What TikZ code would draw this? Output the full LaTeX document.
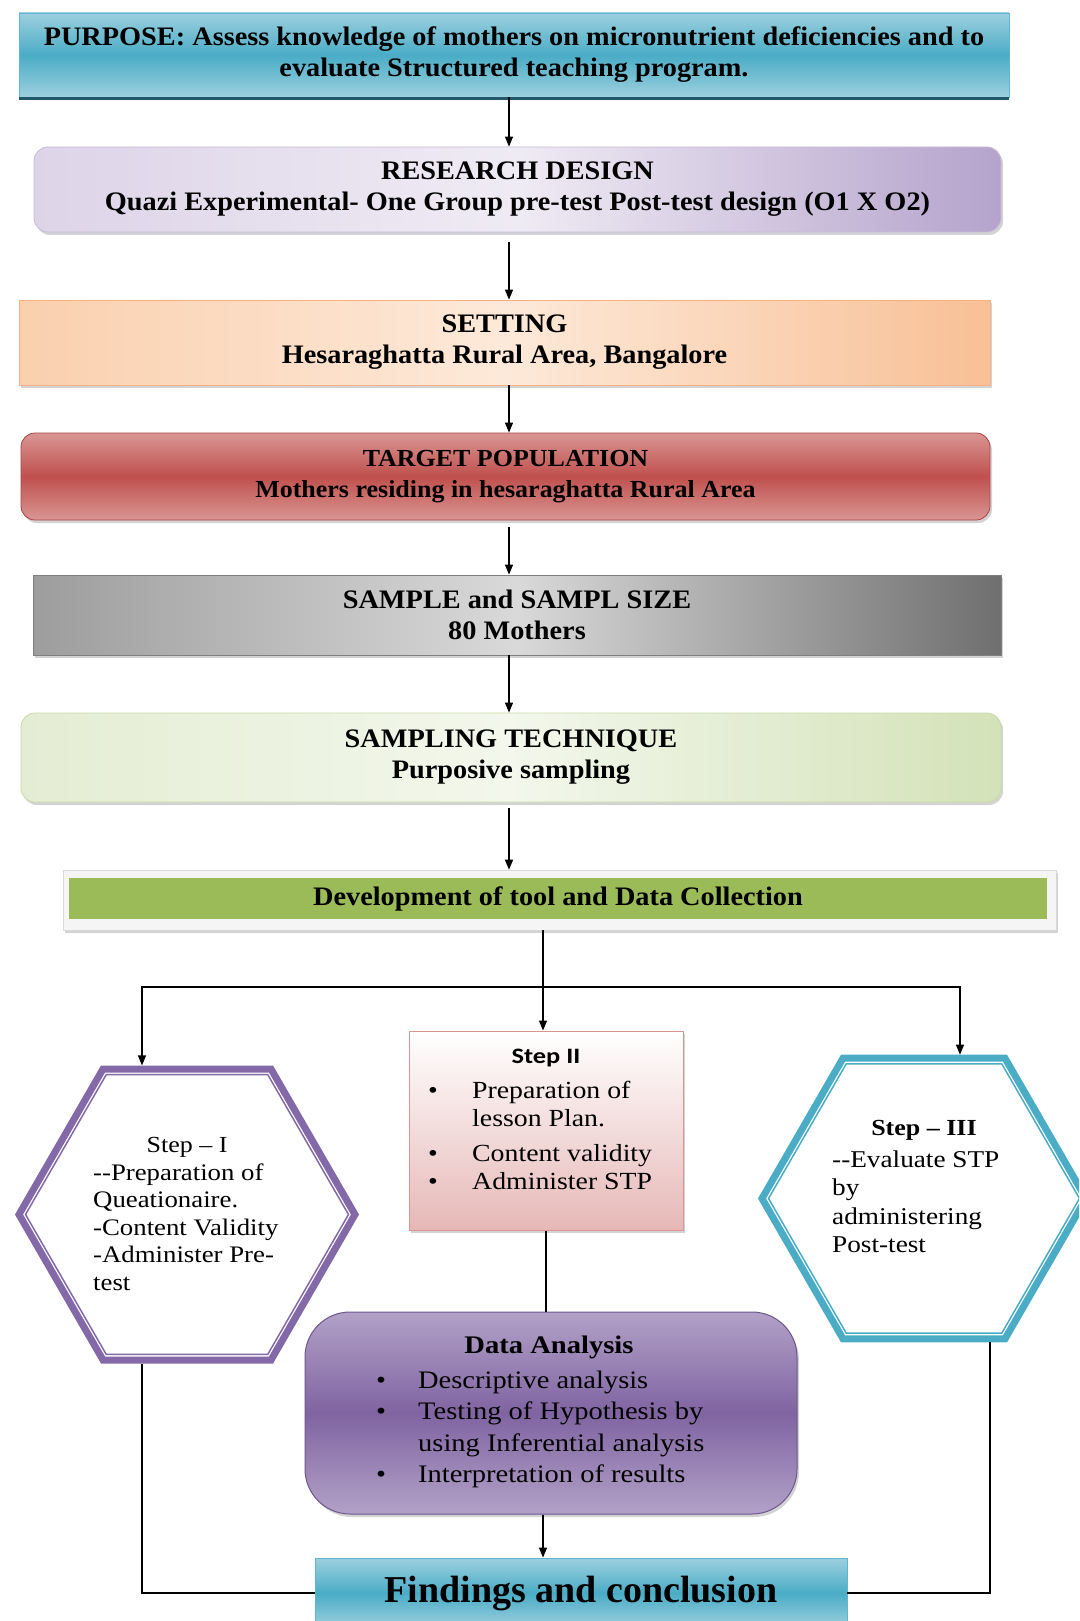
\documentclass[tikz,border=0pt]{standalone}
\usepackage{fontspec}
\setmainfont{Liberation Serif}
\newfontfamily\boxfont[FakeStretch=1.06]{Liberation Serif}
\newfontfamily\stepfont[FakeStretch=1.13]{Liberation Serif}
\newfontfamily\plainfont{Liberation Serif}
\newfontfamily\titlefont[FakeStretch=1.2]{Carlito}
\usetikzlibrary{shapes.geometric,arrows.meta,shadows}

\definecolor{cyanL}{HTML}{9DD0DF}
\definecolor{cyanM}{HTML}{4AACC6}
\definecolor{cyanB}{HTML}{5FB6CE}
\definecolor{cyanD}{HTML}{215968}
\definecolor{lavL}{HTML}{EFEBF4}
\definecolor{lavM}{HTML}{DDD4E8}
\definecolor{lavD}{HTML}{B5A3CC}
\definecolor{lavB}{HTML}{C9BCDA}
\definecolor{peachL}{HTML}{FDE9D9}
\definecolor{peachM}{HTML}{FAD0AE}
\definecolor{peachD}{HTML}{F8C096}
\definecolor{peachB}{HTML}{F4B183}
\definecolor{redL}{HTML}{D99694}
\definecolor{redM}{HTML}{C0504D}
\definecolor{redB}{HTML}{A84543}
\definecolor{grayM}{HTML}{9D9D9D}
\definecolor{grayL}{HTML}{D9D9D9}
\definecolor{grayD}{HTML}{6F6F6F}
\definecolor{grayB}{HTML}{7F7F7F}
\definecolor{grnM}{HTML}{E4EDD3}
\definecolor{grnL}{HTML}{F3F7EC}
\definecolor{grnD}{HTML}{D3E2B8}
\definecolor{grnB}{HTML}{C9DBA6}
\definecolor{olive}{HTML}{9BBB59}
\definecolor{purL}{HTML}{B2A1C7}
\definecolor{purM}{HTML}{8064A2}
\definecolor{purB}{HTML}{6E5690}
\definecolor{hexP}{HTML}{8469A8}
\definecolor{hexC}{HTML}{4BACC6}
\definecolor{pinkB}{HTML}{E6B8B7}
\definecolor{pinkD}{HTML}{D99694}

\begin{document}
\begin{tikzpicture}[x=1pt,y=-1pt,
  mainbox/.style={inner sep=0pt, align=center, line width=0.8pt,
    font=\boxfont\bfseries\fontsize{26.7}{31}\selectfont},
  shad/.style={drop shadow={shadow xshift=2pt,shadow yshift=-3pt,opacity=0.35}},
  hexouter/.style={regular polygon, regular polygon sides=6, inner sep=0pt,
    line width=7pt, fill=white},
  hexinner/.style={regular polygon, regular polygon sides=6, inner sep=0pt,
    line width=1.5pt},
  conn/.style={line width=1.2pt, black},
  arr/.style={conn, -{Triangle[length=10pt,width=8pt]}},
  listtext/.style={anchor=north west, inner sep=0pt, align=left}
]
\useasboundingbox (0,0) rectangle (1079,1621);
\clip (0,0) rectangle (1079,1621);

% ---------- upper chain ----------
\node[mainbox, minimum width=990pt, minimum height=84pt,
  top color=cyanL, bottom color=cyanL, middle color=cyanM, draw=cyanB]
  (purpose) at (514,55)
  {PURPOSE: Assess knowledge of mothers on micronutrient deficiencies and to\\
   evaluate Structured teaching program.};
\draw[cyanD, line width=3pt] ([yshift=-1pt]purpose.south west) -- ([yshift=-1pt]purpose.south east);

\node[mainbox, shad, rounded corners=14pt, minimum width=967pt, minimum height=85pt,
  left color=lavM, right color=lavD, middle color=lavL, draw=lavB]
  (research) at (517.5,189.5)
  {RESEARCH DESIGN\\Quazi Experimental- One Group pre-test Post-test design (O1 X O2)};

\node[mainbox, shad, minimum width=971pt, minimum height=85pt,
  left color=peachM, right color=peachD, middle color=peachL, draw=peachB]
  (setting) at (504.5,342.5)
  {SETTING\\Hesaraghatta Rural Area, Bangalore};

\node[mainbox, shad, rounded corners=14pt, minimum width=969pt, minimum height=87pt,
  top color=redL, bottom color=redL, middle color=redM, draw=redB,
  font=\boxfont\bfseries\fontsize{24.5}{31}\selectfont]
  (target) at (505.5,476.5)
  {TARGET POPULATION\\Mothers residing in hesaraghatta Rural Area};

\node[mainbox, shad, minimum width=968pt, minimum height=80pt,
  left color=grayM, right color=grayD, middle color=grayL, draw=grayB]
  (sample) at (517,615)
  {SAMPLE and SAMPL SIZE\\80 Mothers};

\node[mainbox, shad, rounded corners=14pt, minimum width=980pt, minimum height=89pt,
  left color=grnM, right color=grnD, middle color=grnL, draw=grnB]
  (sampling) at (511,757.5)
  {SAMPLING TECHNIQUE\\Purposive sampling};

\node[shad, minimum width=993pt, minimum height=60pt, inner sep=0pt,
  fill=black!4, draw=black!15, line width=0.6pt]
  (devframe) at (559.5,900) {};
\node[mainbox, minimum width=978pt, minimum height=41pt, fill=olive]
  (dev) at (558,898.5) {Development of tool and Data Collection};

% ---------- lower part ----------
\node[hexouter, draw=hexP, minimum size=336pt] (hex1) at (187,1214.5) {};
\node[hexinner, draw=hexP, minimum size=323pt] (hex1in) at (187,1214.5) {};

\node[hexouter, draw=hexC, minimum size=324pt] (hex3) at (924,1198.5) {};
\node[hexinner, draw=hexC, minimum size=311pt] (hex3in) at (924,1198.5) {};

\node[shad, minimum width=274pt, minimum height=199pt, inner sep=0pt,
  top color=white, bottom color=pinkB, draw=pinkD, line width=1pt]
  (step2) at (546,1130.5) {};

\node[shad, rounded corners=45pt, minimum width=492pt, minimum height=202pt, inner sep=0pt,
  top color=purL, bottom color=purL, middle color=purM, draw=purB, line width=1pt]
  (data) at (551,1413) {};

\node[minimum width=532pt, minimum height=70pt, inner sep=0pt,
  top color=cyanL, bottom color=cyanL, middle color=cyanM, draw=cyanB, line width=0.8pt,
  font=\plainfont\bfseries\fontsize{38}{40}\selectfont]
  (findings) at (581,1593) {Findings and conclusion};

% ---------- texts ----------
\node[anchor=base, inner sep=0pt, font=\stepfont\fontsize{23}{27.5}\selectfont]
  (s1title) at (187,1152) {Step – I};
\node[listtext, font=\stepfont\fontsize{23.7}{27.5}\selectfont] (s1list) at (93,1160.75)
  {\strut-\kern0pt-Preparation of\\Queationaire.\\-Content Validity\\-Administer Pre-\\test};

\node[anchor=base, inner sep=0pt, font=\titlefont\bfseries\fontsize{22}{26}\selectfont]
  (s2title) at (546,1063) {Step II};
\node[listtext, font=\stepfont\fontsize{24.6}{28}\selectfont] (s2list) at (428,1078.4)
  {\strut\makebox[44pt][l]{\textbullet}Preparation of\\
   \hspace*{44pt}lesson Plan.\\[7pt]
   \makebox[44pt][l]{\textbullet}Content validity\\
   \makebox[44pt][l]{\textbullet}Administer STP};

\node[anchor=base, inner sep=0pt, font=\stepfont\bfseries\fontsize{23}{28}\selectfont]
  (s3title) at (924,1135) {Step – III};
\node[listtext, font=\stepfont\fontsize{24.1}{28.5}\selectfont] (s3list) at (832,1147)
  {\strut-\kern0pt-Evaluate STP\\by\\administering\\Post-test};

\node[anchor=base, inner sep=0pt, font=\stepfont\bfseries\fontsize{25.3}{31.5}\selectfont]
  (dtitle) at (549,1353) {Data Analysis};
\node[listtext, font=\stepfont\fontsize{25.2}{31.5}\selectfont] (dlist) at (376,1366)
  {\strut\makebox[42pt][l]{\textbullet}Descriptive analysis\\
   \makebox[42pt][l]{\textbullet}Testing of Hypothesis by\\
   \hspace*{42pt}using Inferential analysis\\
   \makebox[42pt][l]{\textbullet}Interpretation of results};

% ---------- connectors ----------
\coordinate (spine) at (509,0);
\draw[arr] (purpose.south -| spine) -- (research.north -| spine);
\coordinate (rs) at ([yshift=-10pt]research.south);
\draw[arr] (rs -| spine) -- (setting.north -| spine);
\draw[arr] (setting.south -| spine) -- (target.north -| spine);
\coordinate (ts) at ([yshift=-7pt]target.south);
\draw[arr] (ts -| spine) -- (sample.north -| spine);
\draw[arr] (sample.south -| spine) -- (sampling.north -| spine);
\coordinate (ss) at ([yshift=-6pt]sampling.south);
\draw[arr] (ss -| spine) -- (devframe.north -| spine);

\coordinate (jn) at (543,987);
\coordinate (bl) at (142,987);
\coordinate (br) at (960,987);
\coordinate (rr) at (990,0);
\draw[arr] (devframe.south -| jn) -- (step2.north -| jn);
\draw[arr] (jn) -| (hex1.north -| bl);
\draw[arr] (jn) -| (hex3.north -| br);
\draw[conn] (step2.south) -- (step2.south |- data.north);
\draw[arr] (data.south -| jn) -- (findings.north -| jn);
\draw[conn] (hex1.south -| bl) |- (findings.west);
\draw[conn] (hex3.south -| rr) |- (findings.east);
\end{tikzpicture}
\end{document}
